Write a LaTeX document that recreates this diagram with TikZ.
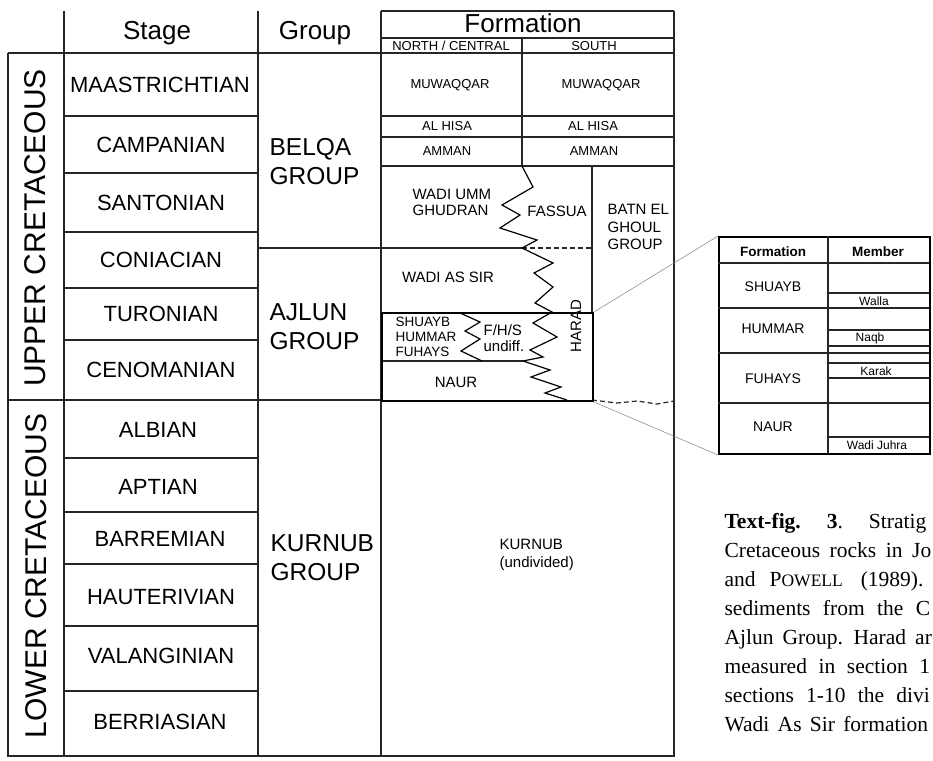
\documentclass[tikz,border=0pt]{standalone}
\usepackage{fontspec}
\setmainfont{Liberation Serif}
\setsansfont{Liberation Sans}
\usetikzlibrary{positioning}
\newcommand{\Sz}[1]{\fontsize{#1}{#1}\selectfont}
\tikzset{
  every picture/.style={line width=1.2pt},
  every node/.style={inner sep=0pt, font=\sffamily},
  rule/.style={draw=black!85, line width=1.2pt},
  heavy/.style={draw=black, line width=2pt},
  zig/.style={draw=black, line width=1.2pt, line join=miter},
  guide/.style={draw=black!50, line width=0.5pt},
  era/.style={font=\sffamily\Sz{30}, rotate=90},
  stage/.style={font=\sffamily\Sz{22}},
  head/.style={font=\sffamily\Sz{26}, anchor=base},
  grp/.style={font=\sffamily\fontsize{24.5}{29}\selectfont, align=left, anchor=west},
  fm/.style={font=\sffamily\Sz{13}},
  fmb/.style={font=\sffamily\fontsize{15}{15.5}\selectfont, align=left},
  tab/.style={font=\sffamily\Sz{14}},
  tabh/.style={font=\sffamily\bfseries\Sz{13.5}},
  mbr/.style={font=\sffamily\Sz{12}},
  capline/.style={font={\rmfamily\Sz{21.5}\spaceskip=#1\relax}, anchor=base west},
  capline/.default=10pt
}

\begin{document}
\begin{tikzpicture}[x=1pt, y=-1pt]
    \useasboundingbox (0,0) rectangle (933,760);

    \draw[rule] (8,53) -- (674,53);
    \draw[rule] (381,11) -- (674,11) (381,38) -- (674,38);
    \draw[rule] (8,53) -- (8,756) -- (674,756) -- (674,11);
    \draw[rule] (64,11) -- (64,756) (258,11) -- (258,756) (381,11) -- (381,756);
    \draw[rule] (8,400) -- (381,400);

    \draw[rule] (64,116) -- (258,116) (64,173) -- (258,173) (64,232) -- (258,232)
                (64,288) -- (258,288) (64,340) -- (258,340);
    \draw[rule] (64,458) -- (258,458) (64,512) -- (258,512) (64,564) -- (258,564)
                (64,626) -- (258,626) (64,691) -- (258,691);
    \draw[rule] (258,248) -- (381,248);

    \draw[rule] (381,116) -- (674,116) (381,137) -- (674,137) (381,166) -- (674,166);
    \draw[rule] (522,38) -- (522,166) (592,166) -- (592,312);
    \draw[rule] (381,248) -- (522,248);
    \draw[rule, dash pattern=on 5pt off 3pt] (522,248) -- (592,248);
    \draw[rule] (381,361) -- (523,361);
    \draw[rule, dash pattern=on 5pt off 3pt] (592,400) -- (617,403) -- (637,401) -- (657,404) -- (674,401);

    \draw[zig] (522,166) -- (533,187) -- (502,205) -- (520,215) -- (500,228) -- (537,240) -- (522,248);
    \draw[zig] (522,248) -- (553,263) -- (534,273) -- (553,287) -- (535,303) -- (552,312)
               -- (533,323) -- (557,337) -- (530,350) -- (543,357) -- (523,361)
               -- (550,370) -- (531,377) -- (561,387) -- (545,393) -- (567,400);
    \draw[zig] (460,313) -- (480,322) -- (465,331) -- (480,339) -- (461,351) -- (482,361);

    \node[heavy, minimum width=211pt, minimum height=88pt, anchor=north west] (fhsbox) at (381,312) {};

    \node[head] (hstage) at (157,40) {Stage};
    \node[head] (hgroup) at (315,40) {Group};
    \node[head] (hform) at (523,33) {Formation};
    \node[fm] (hnorth) at (451,46) {NORTH / CENTRAL};
    \node[fm] (hsouth) at (594,46) {SOUTH};

    \node[era] (upper) at (35,228) {UPPER CRETACEOUS};
    \node[era] (lower) at (36,576) {LOWER CRETACEOUS};

    \node[stage] (maas) at (160,85) {MAASTRICHTIAN};
    \node[stage] (camp) at (161,145) {CAMPANIAN};
    \node[stage] (sant) at (161,203) {SANTONIAN};
    \node[stage] (coni) at (161,260) {CONIACIAN};
    \node[stage] (turo) at (161,314) {TURONIAN};
    \node[stage] (ceno) at (161,370) {CENOMANIAN};
    \node[stage] (albi) at (158,430) {ALBIAN};
    \node[stage] (apti) at (158,487) {APTIAN};
    \node[stage] (barr) at (160,539) {BARREMIAN};
    \node[stage] (haut) at (161,597) {HAUTERIVIAN};
    \node[stage] (vala) at (161,656) {VALANGINIAN};
    \node[stage] (berr) at (160,722) {BERRIASIAN};

    \node[grp] (belqa) at (269,162) {BELQA\\GROUP};
    \node[grp] (ajlun) at (269,327) {AJLUN\\GROUP};
    \node[grp] (kurnubg) at (270,558) {KURNUB\\GROUP};

    \node[fm] (muwn) at (450,85) {MUWAQQAR};
    \node[fm] (muws) at (601,85) {MUWAQQAR};
    \node[fm] (hisan) at (447,126) {AL HISA};
    \node[fm] (hisas) at (593,126) {AL HISA};
    \node[fm] (ammann) at (447,151) {AMMAN};
    \node[fm] (ammans) at (594,151) {AMMAN};

    \node[fmb, anchor=north west] (umm) at (412,189) {WADI UMM\\GHUDRAN};
    \node[fmb] (fassua) at (557,211) {FASSUA};
    \node[fmb, anchor=north west, font=\sffamily\fontsize{15}{17.5}\selectfont] (batn) at (607,204) {BATN EL\\GHOUL\\GROUP};
    \node[fmb] (wadias) at (448,277) {WADI AS SIR};
    \node[fmb, anchor=north west, font=\sffamily\fontsize{13.5}{15}\selectfont] (shu) at (395,316) {SHUAYB\\HUMMAR\\FUHAYS};
    \node[fmb, anchor=north west, font=\sffamily\fontsize{15}{16}\selectfont] (fhs) at (483,324) {F/H/S\\undiff.};
    \node[fmb, rotate=90] (harad) at (576,326) {HARAD};
    \node[fmb] (naur) at (456,382) {NAUR};
    \node[fmb, anchor=north west, font=\sffamily\fontsize{15}{18}\selectfont] (kurnubf) at (499,539) {KURNUB\\(undivided)};

    \node[heavy, minimum width=211pt, minimum height=217pt, anchor=north west] (inset) at (718,236) {};
    \draw[rule] (828,236) -- (828,453);
    \draw[rule] (718,263) -- (929,263) (718,308) -- (929,308) (718,353) -- (929,353) (718,403) -- (929,403);
    \draw[rule] (828,293) -- (929,293) (828,330) -- (929,330) (828,346) -- (929,346)
                (828,363) -- (929,363) (828,378) -- (929,378) (828,437) -- (929,437);

    \node[tabh] (tform) at (773,252) {Formation};
    \node[tabh] (tmember) at (878,252) {Member};
    \node[tab] (tshu) at (773,287) {SHUAYB};
    \node[tab] (thum) at (773,329) {HUMMAR};
    \node[tab] (tfuh) at (773,379) {FUHAYS};
    \node[tab] (tnaur) at (773,427) {NAUR};
    \node[mbr] (walla) at (874,301) {Walla};
    \node[mbr] (naqb) at (870,338) {Naqb};
    \node[mbr] (karak) at (876,371) {Karak};
    \node[mbr] (juhra) at (877,445) {Wadi Juhra};

    \draw[guide] (fhsbox.north east) -- (inset.north west);
    \draw[guide] (fhsbox.south east) -- (inset.south west);

    \node[capline] (cap1) at (724,528) {{\bfseries Text-fig.}\hspace{26pt}{\bfseries 3}.\hspace{26pt}Stratig};
    \node[capline=9.6pt] (cap2) at (724,557) {Cretaceous rocks in Jo};
    \node[capline] (cap3) at (724,586) {and\hspace{14pt}P{\Sz{17.5}OWELL}\hspace{18pt}(1989).};
    \node[capline=12.4pt] (cap4) at (724,615) {sediments from the C};
    \node[capline=9pt] (cap5) at (724,644) {Ajlun Group. Harad ar};
    \node[capline=11.6pt] (cap6) at (724,673) {measured in section 1};
    \node[capline=12.3pt] (cap7) at (724,702) {sections 1-10 the divi};
    \node[capline=8.3pt] (cap8) at (724,731) {Wadi As Sir formation};
  \end{tikzpicture}
\end{document}
